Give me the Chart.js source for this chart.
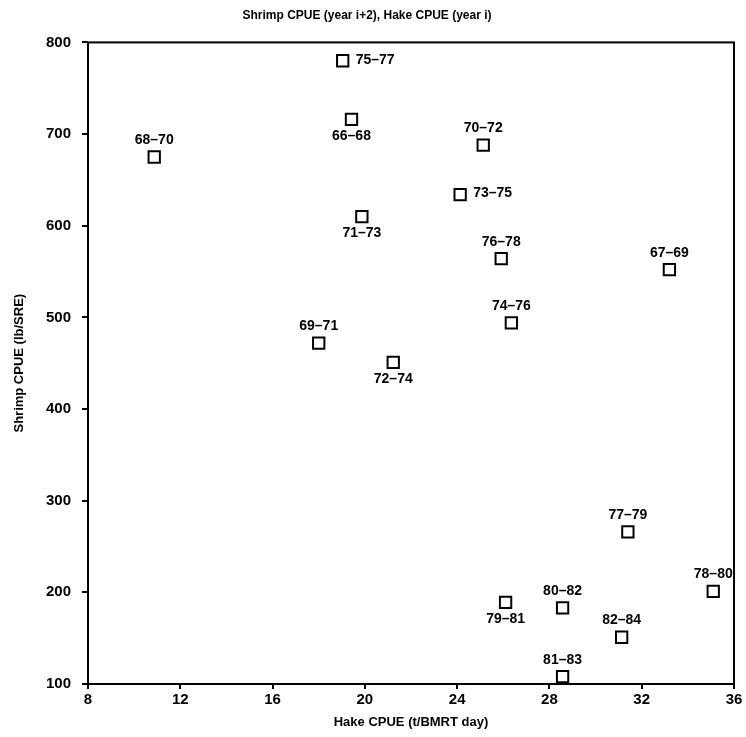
<!DOCTYPE html>
<html>
<head>
<meta charset="utf-8">
<script src="https://cdn.jsdelivr.net/npm/chart.js@4"></script>
<style>
  html, body { margin: 0; padding: 0; background: #fff; }
</style>
</head>
<body>
<canvas id="myChart" width="746" height="737"></canvas>
<script>
const ctx = document.getElementById('myChart');

// year ranges (hake year i - shrimp year i+2)
const periods = ['68–70', '75–77', '66–68', '70–72', '73–75', '71–73', '76–78', '67–69', '74–76',
                 '69–71', '72–74', '77–79', '78–80', '79–81', '80–82', '82–84', '81–83'];
// Hake CPUE (t/BMRT day)
const hakeCpue = [10.87, 19.04, 19.42, 25.13, 24.13, 19.87, 25.91, 33.2, 26.35,
                  18.0, 21.23, 31.4, 35.1, 26.1, 28.57, 31.13, 28.57];
// Shrimp CPUE (lb/SRE)
const shrimpCpue = [675, 780, 716, 688, 634, 610, 564, 552, 494,
                    472, 451, 266, 201, 189, 183, 151, 108];
const xTicks = [8, 12, 16, 20, 24, 28, 32, 36];
const yTicks = [100, 200, 300, 400, 500, 600, 700, 800];

// where each label sits relative to its square
const labelSide = ['above', 'right', 'below', 'above', 'right', 'below', 'above', 'above', 'above',
                   'above', 'below', 'above', 'above', 'below', 'above', 'above', 'above'];

const FONT = "'Liberation Sans', Arial, sans-serif";

const pointLabels = {
  id: 'pointLabels',
  afterDatasetsDraw(chart) {
    const c = chart.ctx;
    const meta = chart.getDatasetMeta(0);
    c.save();
    c.fillStyle = '#000';
    c.font = 'bold 14px ' + FONT;
    c.textBaseline = 'middle';
    meta.data.forEach((pt, i) => {
      const side = labelSide[i];
      if (side === 'right') {
        c.textAlign = 'left';
        c.fillText(periods[i], pt.x + 13, pt.y - 1);
      } else {
        c.textAlign = 'center';
        c.fillText(periods[i], pt.x, side === 'above' ? pt.y - 17 : pt.y + 17);
      }
    });
    c.restore();
  }
};

const frame = {
  id: 'frame',
  afterDraw(chart) {
    const a = chart.chartArea;
    const c = chart.ctx;
    c.save();
    c.strokeStyle = '#000';
    c.lineWidth = 2;
    c.strokeRect(a.left, a.top, a.right - a.left, a.bottom - a.top);
    c.restore();
  }
};

new Chart(ctx, {
  type: 'scatter',
  data: {
    datasets: [{
      data: hakeCpue.map((x, i) => ({ x: x, y: shrimpCpue[i] })),
      pointStyle: 'rect',
      radius: 8,
      hoverRadius: 8,
      borderColor: '#000',
      backgroundColor: 'rgba(0,0,0,0)',
      borderWidth: 2
    }]
  },
  options: {
    responsive: false,
    animation: false,
    layout: { padding: { left: 0, right: 12, top: 0, bottom: 0 } },
    plugins: {
      legend: { display: false },
      tooltip: { enabled: false },
      title: {
        display: true,
        text: 'Shrimp CPUE (year i+2), Hake CPUE (year i)',
        color: '#000',
        font: { family: FONT, size: 12, weight: 'bold' },
        padding: { top: 8, bottom: 20 }
      }
    },
    scales: {
      x: {
        type: 'linear',
        min: 8,
        max: 36,
        afterBuildTicks: s => { s.ticks = xTicks.map(v => ({ value: v })); },
        afterFit: s => { s.height = 53; },
        ticks: { color: '#000', font: { family: FONT, size: 15, weight: 'bold' }, padding: 2, maxRotation: 0 },
        grid: { display: true, drawOnChartArea: false, drawTicks: true, tickLength: 5, color: '#000', lineWidth: 2 },
        border: { display: false },
        title: {
          display: true,
          text: 'Hake CPUE (t/BMRT day)',
          color: '#000',
          font: { family: FONT, size: 13, weight: 'bold' },
          padding: { top: 0, bottom: 7 }
        }
      },
      y: {
        type: 'linear',
        min: 100,
        max: 800,
        afterBuildTicks: s => { s.ticks = yTicks.map(v => ({ value: v })); },
        afterFit: s => { s.width = 88; },
        ticks: { color: '#000', font: { family: FONT, size: 15, weight: 'bold' }, padding: 11 },
        grid: { display: true, drawOnChartArea: false, drawTicks: true, tickLength: 6, color: '#000', lineWidth: 2 },
        border: { display: false },
        title: {
          display: true,
          text: 'Shrimp CPUE (lb/SRE)',
          color: '#000',
          font: { family: FONT, size: 13, weight: 'bold' },
          padding: { top: 12, bottom: 0 }
        }
      }
    }
  },
  plugins: [pointLabels, frame]
});
</script>
</body>
</html>
